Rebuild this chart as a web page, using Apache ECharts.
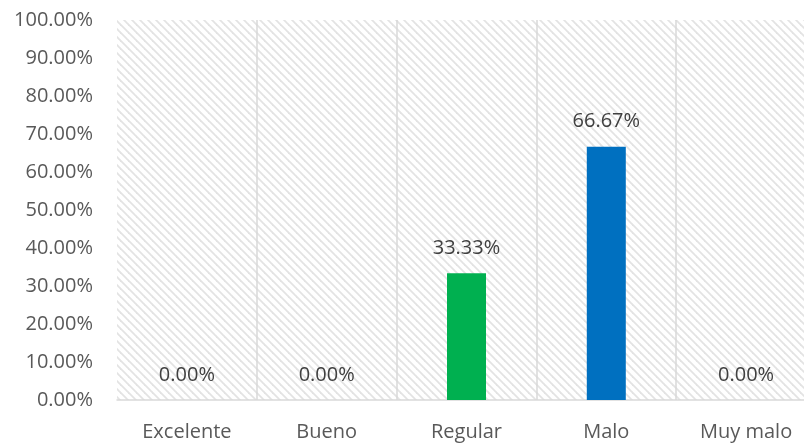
<!DOCTYPE html>
<html><head><meta charset="utf-8">
<script src="https://cdn.jsdelivr.net/npm/echarts@6/dist/echarts.min.js"></script>
<style>html,body{margin:0;padding:0;background:#fff;overflow:hidden;width:804px;height:443px}#c{width:820px;height:443px}</style>
</head><body><div id="c"></div>
<script>
const categories = ['Excelente', 'Bueno', 'Regular', 'Malo', 'Muy malo'];
const values = [0, 0, 33.33, 66.67, 0];
const barColors = ['#00B050', '#00B050', '#00B050', '#0070C0', '#00B050'];
const yTicks = { min: 0, max: 100, interval: 10 };

function hatch() {
  const s = 8;
  const c = document.createElement('canvas');
  c.width = s; c.height = s;
  const g = c.getContext('2d');
  g.fillStyle = '#ffffff'; g.fillRect(0, 0, s, s);
  g.strokeStyle = '#e3e3e3'; g.lineWidth = 1.8;
  for (const k of [-s, 0, s]) {
    g.beginPath(); g.moveTo(k - 1, -1); g.lineTo(k + s + 1, s + 1); g.stroke();
  }
  return { image: c, repeat: 'repeat' };
}

const font = '"Open Sans", sans-serif';
const chart = echarts.init(document.getElementById('c'), null, { renderer: 'canvas', width: 820, height: 443 });
chart.setOption({
  animation: false,
  backgroundColor: '#ffffff',
  grid: { left: 117, top: 20, height: 380, width: 699, show: true, backgroundColor: hatch(), borderWidth: 0 },
  xAxis: {
    type: 'category', data: categories,
    axisLine: { show: true, lineStyle: { color: '#d9d9d9', width: 1.5 } },
    axisTick: { show: false },
    splitLine: { show: true, lineStyle: { color: ['rgba(0,0,0,0)', '#d9d9d9', '#d9d9d9', '#d9d9d9', '#d9d9d9', '#d9d9d9'], width: 1.5 } },
    axisLabel: { color: '#595959', fontFamily: font, fontSize: 20, margin: 22 }
  },
  yAxis: {
    type: 'value', min: yTicks.min, max: yTicks.max, interval: yTicks.interval,
    axisLine: { show: false }, axisTick: { show: false }, splitLine: { show: false },
    axisLabel: { color: '#595959', fontFamily: font, fontSize: 20, margin: 24, formatter: v => v.toFixed(2) + '%' }
  },
  series: [{
    type: 'bar', barWidth: 39,
    data: values.map((v, i) => ({ value: v, itemStyle: { color: barColors[i] } })),
    label: { show: true, position: 'top', distance: 15, color: '#404040', fontFamily: font, fontSize: 20,
      formatter: p => p.value.toFixed(2) + '%' }
  }]
});
</script></body></html>
